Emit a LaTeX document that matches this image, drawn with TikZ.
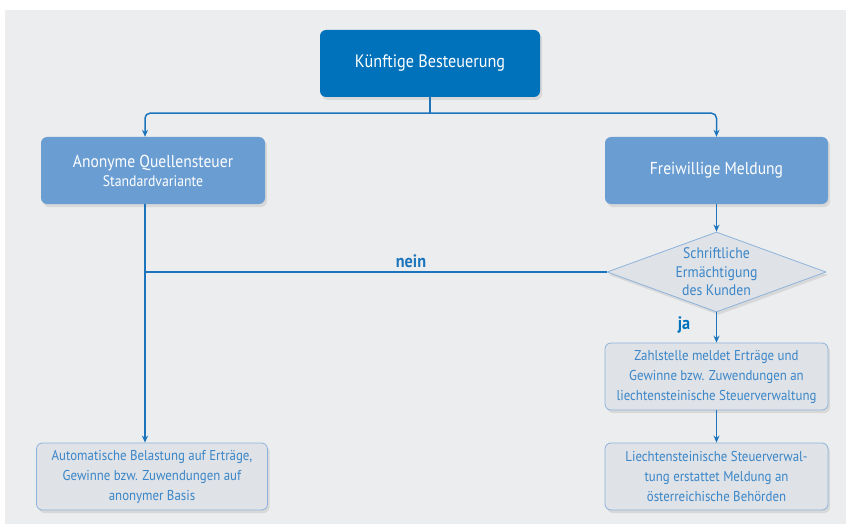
\documentclass[tikz,border=0pt]{standalone}
\usepackage{fontspec}
\setmainfont{PT Sans}[FakeStretch=0.9]
\usetikzlibrary{shapes.geometric,shadows,arrows.meta}
\definecolor{bg}{HTML}{ECEDEE}
\definecolor{darkblue}{HTML}{0072BC}
\definecolor{midblue}{HTML}{6A9ED3}
\definecolor{linec}{HTML}{1C75BC}
\definecolor{grayfill}{HTML}{DFE2E6}
\definecolor{grayborder}{HTML}{8DB3DD}
\definecolor{txtblue}{HTML}{3A86C8}
\tikzset{
  boxshadow/.style={drop shadow={shadow xshift=2pt,shadow yshift=-3pt,opacity=0.15,fill=black!60}},
  topbox/.style={rectangle,rounded corners=6pt,fill=darkblue,text=white,minimum width=220pt,minimum height=67pt,font=\fontsize{18}{21}\selectfont,boxshadow,align=center},
  bluebox/.style={rectangle,rounded corners=6pt,fill=midblue,text=white,minimum width=223pt,minimum height=67pt,font=\fontsize{17.3}{20}\selectfont,boxshadow,align=center},
  graybox/.style={rectangle,rounded corners=6pt,fill=grayfill,draw=grayborder,line width=0.8pt,text=txtblue,minimum width=223pt,minimum height=67pt,font=\fontsize{14.3}{20}\selectfont,boxshadow,align=center},
  decision/.style={diamond,fill=grayfill,draw=grayborder,line width=0.8pt,minimum width=219pt,minimum height=80pt,inner sep=0pt,boxshadow},
  dtext/.style={text=txtblue,font=\fontsize{15.3}{18.5}\selectfont,align=center,inner sep=0pt},
  conn/.style={draw=linec,line width=1.5pt},
  arr/.style={conn,-{Stealth[length=7pt,width=6pt]}},
  lbl/.style={text=linec,font=\fontsize{18}{20}\selectfont\bfseries}
}
\begin{document}
\begin{tikzpicture}[x=1pt,y=-1pt]
\useasboundingbox (0,0) rectangle (846,524);
\fill[white] (0,0) rectangle (846,524);
\fill[bg] (5,10) rectangle (846,524);

\node[topbox] (top) at (430,63.5) {Künftige Besteuerung};
\node[bluebox,minimum width=224pt] (anon) at (153,170.5) {Anonyme Quellensteuer\\[-1pt]{\fontsize{15.3}{17}\selectfont Standardvariante}};
\node[bluebox] (frei) at (716.5,170.5) {Freiwillige Meldung};
\node[decision] (dia) at (716.5,272) {};
\node[dtext] (diatext) at (716.5,272) {Schriftliche\\Ermächtigung\\des Kunden};
\node[graybox] (zahl) at (716.5,376.5) {Zahlstelle meldet Erträge und\\Gewinne bzw. Zuwendungen an\\liechtensteinische Steuerverwaltung};
\node[graybox] (liech) at (716.5,476.5) {Liechtensteinische Steuerverwal-\\tung erstattet Meldung an\\österreichische Behörden};
\node[graybox,minimum width=231pt] (auto) at (152,476.5) {Automatische Belastung auf Erträge,\\Gewinne bzw. Zuwendungen auf\\anonymer Basis};

\coordinate (lx) at (145,0);
\draw[conn] (top.south) -- ++(0,16) coordinate (j);
\draw[arr,rounded corners=5pt] (j) -| (anon.north -| lx);
\draw[arr,rounded corners=5pt] (j) -| (frei.north);
\draw[arr] (anon.south -| lx) -- (auto.north -| lx);
\draw[conn] (dia.west) -- (dia.west -| lx);
\node[lbl] (nein) at (411,261) {nein};
\draw[arr] (frei.south) -- (dia.north);
\draw[arr] (dia.south) -- (zahl.north);
\node[lbl,text=darkblue] (ja) at (684,325) {ja};
\draw[arr] (zahl.south) -- (liech.north);
\end{tikzpicture}
\end{document}
